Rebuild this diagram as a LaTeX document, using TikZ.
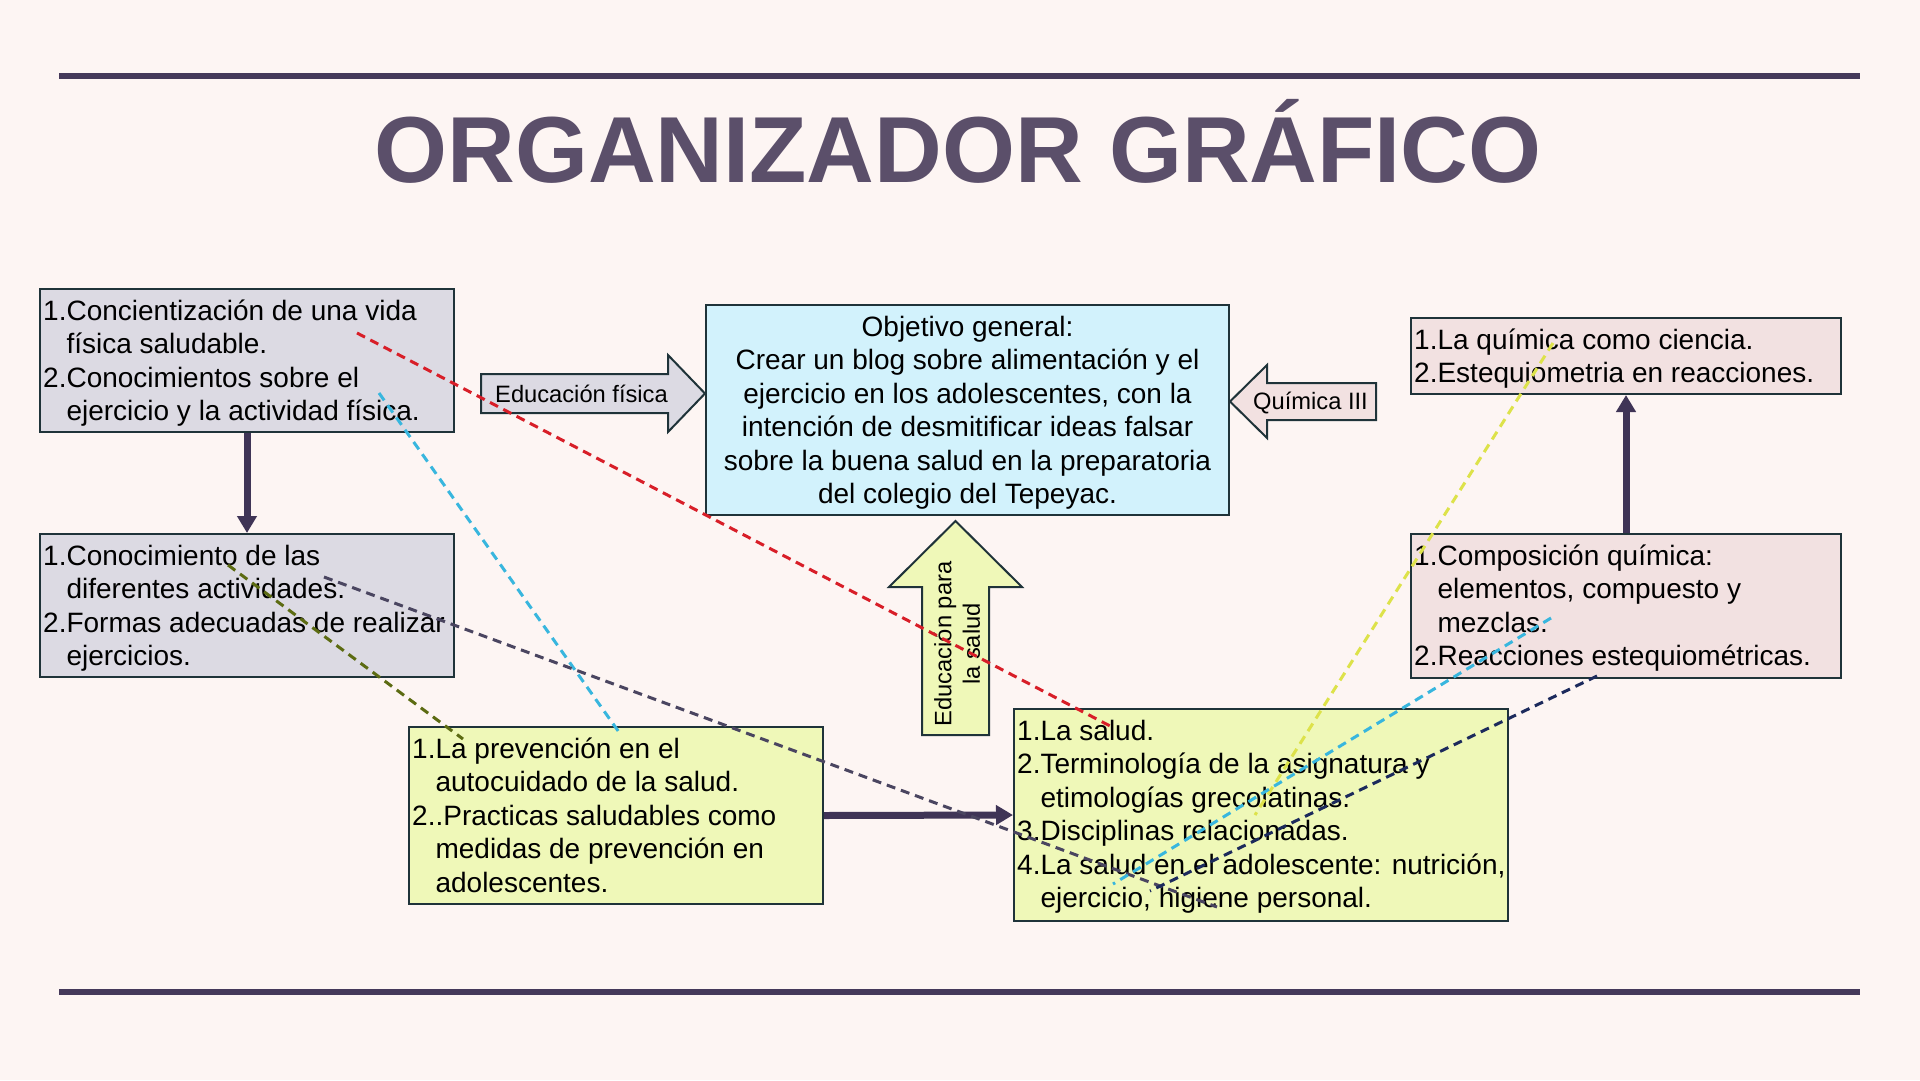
\documentclass[tikz,border=0pt]{standalone}
\usepackage{fontspec}
\setmainfont{Liberation Sans}
\usetikzlibrary{arrows.meta,calc}
\definecolor{bg}{HTML}{FDF5F3}
\definecolor{boxline}{HTML}{1F3339}
\definecolor{lav}{HTML}{DCDAE3}
\definecolor{cyanfill}{HTML}{D2F2FC}
\definecolor{pinkfill}{HTML}{F2E1E1}
\definecolor{yelfill}{HTML}{EFF8B8}
\definecolor{arrowcol}{HTML}{3F3456}
\definecolor{rulecol}{HTML}{45395A}
\definecolor{titlecol}{HTML}{5B4F6A}
\definecolor{dred}{HTML}{D81E28}
\definecolor{dcyan}{HTML}{38B6DE}
\definecolor{dolive}{HTML}{5C6B12}
\definecolor{dgrey}{HTML}{4A4560}
\definecolor{dyellow}{HTML}{DDE24A}
\definecolor{dnavy}{HTML}{1C2A5C}
\begin{document}
\begin{tikzpicture}[x=1pt,y=-1pt,
  box/.style={draw=boxline,line width=2pt,anchor=north west,inner sep=0pt},
  txt/.style={anchor=north west,inner sep=0pt,align=left,font=\fontsize{28}{33.5}\selectfont,text=black},
  lbl/.style={inner sep=0pt,font=\fontsize{23.7}{28.5}\selectfont,text=black},
  blockarrow/.style={draw=boxline,line width=2pt,line join=miter},
  conn/.style={draw=arrowcol,line width=7pt,-{Triangle[length=17pt,width=19pt]}},
  rulebar/.style={draw=rulecol,line width=6.5pt},
  dashlink/.style={line width=3pt,dash pattern=on 9pt off 6pt}]
\useasboundingbox (0,0) rectangle (1920,1080);
\fill[bg] (0,0) rectangle (1920,1080);
% rules and title
\draw[rulebar] (59,76) -- (1860,76);
\draw[rulebar] (59,992) -- (1860,992);
\node[anchor=base,inner sep=0pt,text=titlecol,font=\fontsize{93.8}{110}\selectfont\bfseries] (title) at (958,182) {ORGANIZADOR GRÁFICO};
% block arrows
\filldraw[blockarrow,fill=lav] (481,374) -- (668,374) -- (668,355) -- (705,393.5) -- (668,432) -- (668,413) -- (481,413) -- cycle;
\node[lbl,anchor=base west] (edfis) at (495,402) {Educación física};
\filldraw[blockarrow,fill=pinkfill] (1376,383) -- (1267,383) -- (1267,365) -- (1230,401.5) -- (1267,438) -- (1267,420) -- (1376,420) -- cycle;
\node[lbl,anchor=base west] (quim) at (1253,409) {Química III};
\filldraw[blockarrow,fill=yelfill] (922,735) -- (922,587) -- (889,587) -- (955.5,521) -- (1022,587) -- (989,587) -- (989,735) -- cycle;
\node[lbl,align=center,rotate=90] (edsal) at (957,644) {Educación para\\la salud};
% boxes
\node[box,fill=lav,minimum width=414pt,minimum height=143pt] (A) at (39,288) {};
\node[txt] (At) at ($(A.north west)+(4,8.5)$) {\strut1.Concientización de una vida\\\strut\hphantom{1.}física saludable.\\\strut2.Conocimientos sobre el\\\strut\hphantom{1.}ejercicio y la actividad física.};
\node[box,fill=lav,minimum width=414pt,minimum height=143pt] (B) at (39,533) {};
\node[txt] (Bt) at ($(B.north west)+(4,8.5)$) {\strut1.Conocimiento de las\\\strut\hphantom{1.}diferentes actividades.\\\strut2.Formas adecuadas de realizar\\\strut\hphantom{1.}ejercicios.};
\node[box,fill=cyanfill,minimum width=523pt,minimum height=210pt] (O) at (705,304) {};
\node[txt,anchor=north,align=center] (Ot) at ($(O.north)+(0,8.5)$) {\strut Objetivo general:\\\strut Crear un blog sobre alimentación y el\\\strut ejercicio en los adolescentes, con la\\\strut intención de desmitificar ideas falsar\\\strut sobre la buena salud en la preparatoria\\\strut del colegio del Tepeyac.};
\node[box,fill=pinkfill,minimum width=430pt,minimum height=76pt] (Q1) at (1410,317) {};
\node[txt] (Q1t) at ($(Q1.north west)+(4,8.5)$) {\strut1.La química como ciencia.\\\strut2.Estequiometria en reacciones.};
\node[box,fill=pinkfill,minimum width=430pt,minimum height=144pt] (Q2) at (1410,533) {};
\node[txt] (Q2t) at ($(Q2.north west)+(4,8.5)$) {\strut1.Composición química:\\\strut\hphantom{1.}elementos, compuesto y\\\strut\hphantom{1.}mezclas.\\\strut2.Reacciones estequiométricas.};
\node[box,fill=yelfill,minimum width=414pt,minimum height=177pt] (P) at (408,726) {};
\node[txt] (Pt) at ($(P.north west)+(4,8.5)$) {\strut1.La prevención en el\\\strut\hphantom{1.}autocuidado de la salud.\\\strut2..Practicas saludables como\\\strut\hphantom{1.}medidas de prevención en\\\strut\hphantom{1.}adolescentes.};
\node[box,fill=yelfill,minimum width=494pt,minimum height=212pt] (S) at (1013,708) {};
\node[txt] (St) at ($(S.north west)+(4,8.5)$) {\strut1.La salud.\\\strut2.Terminología de la asignatura y\\\strut\hphantom{1.}etimologías grecolatinas.\\\strut3.Disciplinas relacionadas.\\\strut4.La salud en el adolescente: nutrición,\\\strut\hphantom{1.}ejercicio, higiene personal.};
% solid connectors
\draw[conn] (A.south) -- (B.north);
\draw[conn] (P.east) -- (S.west);
\draw[conn] (Q2.north) -- (Q1.south);
% dashed connectors
\coordinate (r1) at (357,333); \coordinate (r2) at (1112,727);
\coordinate (c1) at (379,393); \coordinate (c2) at (621,735);
\coordinate (o1) at (228,565); \coordinate (o2) at (463,739);
\coordinate (g1) at (324,577); \coordinate (g2) at (1217,907);
\coordinate (y1) at (1553,343); \coordinate (y2) at (1255,815);
\coordinate (k1) at (1551,618); \coordinate (k2) at (1113,884);
\coordinate (n1) at (1597,676); \coordinate (n2) at (1150,891);
\draw[dashlink,dred] (r1) -- (r2);
\draw[dashlink,dcyan] (c1) -- (c2);
\draw[dashlink,dolive] (o1) -- (o2);
\draw[dashlink,dgrey] (g1) -- (g2);
\draw[dashlink,dyellow] (y1) -- (y2);
\draw[dashlink,dcyan] (k1) -- (k2);
\draw[dashlink,dnavy] (n1) -- (n2);
\end{tikzpicture}
\end{document}
